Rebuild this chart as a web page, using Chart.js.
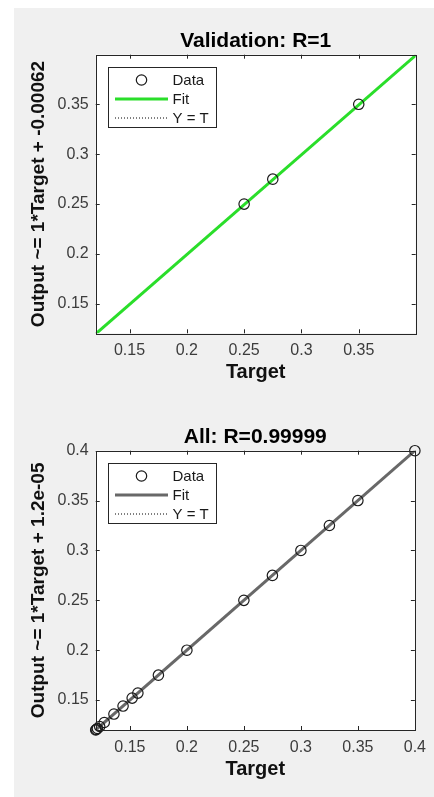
<!DOCTYPE html>
<html>
<head>
<meta charset="utf-8">
<script src="https://cdn.jsdelivr.net/npm/chart.js@4.4.1/dist/chart.umd.min.js"></script>
<style>
  html, body { margin: 0; padding: 0; background: #fff; }
  body { width: 434px; height: 797px; position: relative; overflow: hidden; }
  #fig { position: absolute; left: 14px; top: 8px; width: 420px; height: 789px; background: #f0f0f0; }
  canvas { position: absolute; left: 0; }
  #valChart { top: 0; }
  #allChart { top: 398px; }
</style>
</head>
<body>
<div id="fig"></div>
<canvas id="valChart" width="434" height="398"></canvas>
<canvas id="allChart" width="434" height="399"></canvas>
<script>
// Valores (regressão MATLAB)
const legendLabels = ['Data', 'Fit', 'Y = T'];
const xLabel = 'Target';

// Validation
const valTitle = 'Validation: R=1';
const valYLabel = 'Output ~= 1*Target + -0.00062';
const valLimits = [0.1205, 0.3997];
const valTargets = [0.25, 0.275, 0.35];
const valOutputs = [0.25, 0.275, 0.35];
const valFitX = [0.1205, 0.3997];
const valFitY = [0.1199, 0.3991];
const valTicks = [0.15, 0.2, 0.25, 0.3, 0.35];
const valTickLabels = ['0.15', '0.2', '0.25', '0.3', '0.35'];

// All
const allTitle = 'All: R=0.99999';
const allYLabel = 'Output ~= 1*Target + 1.2e-05';
const allLimits = [0.12, 0.4];
const allTargets = [0.12, 0.1205, 0.1215, 0.1235, 0.1275, 0.136, 0.144, 0.152, 0.157, 0.175, 0.2, 0.25, 0.275, 0.3, 0.325, 0.35, 0.4];
const allOutputs = [0.12, 0.1205, 0.1215, 0.1235, 0.1275, 0.136, 0.144, 0.152, 0.157, 0.175, 0.2, 0.25, 0.275, 0.3, 0.325, 0.35, 0.4];
const allFitX = [0.12, 0.4];
const allFitY = [0.12, 0.4];
const allTicks = [0.15, 0.2, 0.25, 0.3, 0.35, 0.4];
const allTickLabels = ['0.15', '0.2', '0.25', '0.3', '0.35', '0.4'];

const FONT = "'Liberation Sans', Arial, Helvetica, sans-serif";
const AXIS_COLOR = '#262626';
const TICK_LEN = 4;

// Transforma pares x/y em pontos
function toPoints(xs, ys) {
  return xs.map((x, i) => ({ x: x, y: ys[i] }));
}

// Fundo branco, caixa com marcas internas e legenda estilo MATLAB
const matlabAxes = {
  id: 'matlabAxes',
  beforeDatasetsDraw(chart) {
    const { ctx, chartArea: a } = chart;
    ctx.save();
    ctx.fillStyle = '#fff';
    ctx.fillRect(a.left, a.top, a.right - a.left, a.bottom - a.top);
    ctx.restore();
  },
  afterDatasetsDraw(chart) {
    const { ctx, chartArea: a, scales } = chart;
    ctx.save();
    ctx.strokeStyle = AXIS_COLOR;
    ctx.lineWidth = 1;
    ctx.beginPath();
    scales.x.ticks.forEach(t => {
      const px = Math.round(scales.x.getPixelForValue(t.value)) + 0.5;
      ctx.moveTo(px, a.bottom); ctx.lineTo(px, a.bottom - TICK_LEN);
      ctx.moveTo(px, a.top); ctx.lineTo(px, a.top + TICK_LEN);
    });
    scales.y.ticks.forEach(t => {
      const py = Math.round(scales.y.getPixelForValue(t.value)) + 0.5;
      ctx.moveTo(a.left, py); ctx.lineTo(a.left + TICK_LEN, py);
      ctx.moveTo(a.right, py); ctx.lineTo(a.right - TICK_LEN, py);
    });
    ctx.stroke();
    ctx.strokeRect(Math.round(a.left) + 0.5, Math.round(a.top) + 0.5,
      Math.round(a.right - a.left), Math.round(a.bottom - a.top));

    // legenda
    const lx = Math.round(a.left + 12.6) + 0.5;
    const ly = Math.round(a.top + 12.5) + 0.5;
    const lw = 108, lh = 60;
    ctx.fillStyle = '#fff';
    ctx.fillRect(lx, ly, lw, lh);
    ctx.strokeStyle = AXIS_COLOR;
    ctx.lineWidth = 1;
    ctx.strokeRect(lx, ly, lw, lh);
    ctx.font = '15px ' + FONT;
    ctx.textBaseline = 'middle';
    ctx.textAlign = 'left';
    chart.data.datasets.forEach((ds, i) => {
      const rowY = ly + 12.5 + i * 19;
      ctx.save();
      if (ds.showLine) {
        ctx.strokeStyle = ds.borderColor;
        ctx.lineWidth = ds.borderWidth;
        ctx.setLineDash(ds.borderDash || []);
        ctx.beginPath();
        ctx.moveTo(lx + 6.5, rowY);
        ctx.lineTo(lx + 59.5, rowY);
        ctx.stroke();
      } else {
        ctx.strokeStyle = ds.borderColor;
        ctx.lineWidth = ds.borderWidth;
        ctx.beginPath();
        ctx.arc(lx + 33, rowY, ds.pointRadius, 0, Math.PI * 2);
        ctx.stroke();
      }
      ctx.restore();
      ctx.fillStyle = '#1a1a1a';
      ctx.fillText(ds.label, lx + 64, rowY + 1);
    });
    ctx.restore();
  }
};

function makeChart(canvasId, p) {
  const ctx = document.getElementById(canvasId).getContext('2d');
  return new Chart(ctx, {
    type: 'scatter',
    data: {
      datasets: [
        {
          label: legendLabels[0],
          data: toPoints(p.targets, p.outputs),
          showLine: false,
          pointRadius: 5.2,
          pointHoverRadius: 5.2,
          borderColor: '#1a1a1a',
          borderWidth: 1.2,
          backgroundColor: 'rgba(0,0,0,0)',
          clip: false,
          order: 0
        },
        {
          label: legendLabels[1],
          data: toPoints(p.fitX, p.fitY),
          showLine: true,
          pointRadius: 0,
          borderColor: p.fitColor,
          borderWidth: 3,
          order: 1
        },
        {
          label: legendLabels[2],
          data: toPoints(p.limits, p.limits),
          showLine: true,
          pointRadius: 0,
          borderColor: '#000',
          borderWidth: 1,
          borderDash: [1, 2],
          order: 2
        }
      ]
    },
    options: {
      responsive: false,
      animation: false,
      events: [],
      layout: { padding: { left: 0, right: 18.3, top: 0, bottom: 0 } },
      plugins: {
        legend: { display: false },
        tooltip: { enabled: false },
        title: {
          display: true,
          fullSize: false,
          text: p.title,
          color: '#000',
          font: { family: FONT, size: 21, weight: 'bold' },
          padding: p.titlePad
        }
      },
      scales: {
        x: {
          type: 'linear',
          min: p.limits[0],
          max: p.limits[1],
          grid: { display: false, drawTicks: false },
          border: { display: false },
          afterBuildTicks: s => { s.ticks = p.ticks.map(v => ({ value: v })); },
          afterFit: s => { s.height = p.xAxisHeight; },
          ticks: {
            padding: 8,
            color: '#3c3c3c',
            font: { family: FONT, size: 16 },
            maxRotation: 0,
            callback: (v, i) => p.tickLabels[i]
          },
          title: {
            display: true,
            text: xLabel,
            color: '#111',
            font: { family: FONT, size: 20, weight: 'bold' },
            padding: { top: 0, bottom: p.xTitlePad }
          }
        },
        y: {
          type: 'linear',
          min: p.limits[0],
          max: p.limits[1],
          grid: { display: false, drawTicks: false },
          border: { display: false },
          afterBuildTicks: s => { s.ticks = p.ticks.map(v => ({ value: v })); },
          afterFit: s => { s.width = 95.7; },
          ticks: {
            padding: 7,
            color: '#3c3c3c',
            font: { family: FONT, size: 16 },
            callback: (v, i) => p.tickLabels[i]
          },
          title: {
            display: true,
            text: p.yLabel,
            color: '#111',
            font: { family: FONT, size: 19, weight: 'bold' },
            padding: { top: 27, bottom: 0 }
          }
        }
      }
    },
    plugins: [matlabAxes]
  });
}

makeChart('valChart', {
  title: valTitle, yLabel: valYLabel, limits: valLimits,
  targets: valTargets, outputs: valOutputs, fitX: valFitX, fitY: valFitY,
  ticks: valTicks, tickLabels: valTickLabels, fitColor: '#2ade2a',
  titlePad: { top: 28.7, bottom: 0.8 }, xAxisHeight: 64.7, xTitlePad: 13.2
});

makeChart('allChart', {
  title: allTitle, yLabel: allYLabel, limits: allLimits,
  targets: allTargets, outputs: allOutputs, fitX: allFitX, fitY: allFitY,
  ticks: allTicks, tickLabels: allTickLabels, fitColor: '#686868',
  titlePad: { top: 26.2, bottom: 1.3 }, xAxisHeight: 67, xTitlePad: 15.5
});
</script>
</body>
</html>
